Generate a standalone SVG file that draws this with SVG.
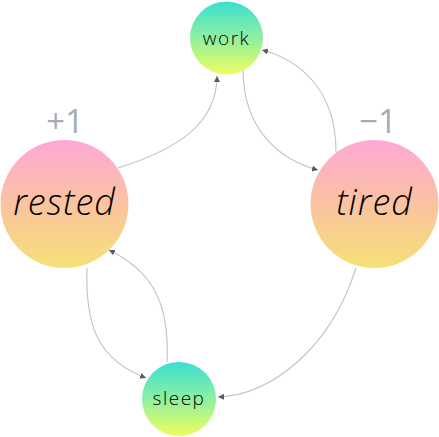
<svg xmlns="http://www.w3.org/2000/svg" width="439" height="437" viewBox="0 0 439 437">
<defs>
<linearGradient id="gTeal" x1="0" y1="0" x2="0" y2="1">
<stop offset="0" stop-color="#3adfd2"/>
<stop offset="0.5" stop-color="#8ef0a0"/>
<stop offset="1" stop-color="#effd5e"/>
</linearGradient>
<linearGradient id="gPink" x1="0" y1="0" x2="0" y2="1">
<stop offset="0" stop-color="#ffa8d6"/>
<stop offset="0.5" stop-color="#fac3a0"/>
<stop offset="1" stop-color="#f6e176"/>
</linearGradient>
<marker id="arr" viewBox="0 0 10 10" refX="10" refY="5" markerWidth="6" markerHeight="6" markerUnits="userSpaceOnUse" orient="auto">
<path d="M0,0 L10,5 L0,10 z" fill="#555b5e"/>
</marker>
</defs>
<style>
.edge{fill:none;stroke:#bcc6ca;stroke-width:1.1;marker-end:url(#arr)}
.small{font-family:"Open Sans",Lato,sans-serif;font-weight:300;font-size:19px;fill:#000;text-anchor:middle;letter-spacing:1.5px}
.big{font-family:"Open Sans",Lato,sans-serif;font-weight:300;font-size:36px;font-style:italic;fill:#000;text-anchor:middle;letter-spacing:1px}
.score{font-family:"Open Sans",Lato,sans-serif;font-weight:400;font-size:33px;fill:#a3adb2;text-anchor:middle}
</style>
<g id="connectors">
<path class="edge" d="M118,168 C175,150 217,125 217,76"/>
<path class="edge" d="M243,69 C243,130 280,160 318,170"/>
<path class="edge" d="M336,152 C336,90 300,60 262,50"/>
<path class="edge" d="M356,268 C330,350 270,395 218,397"/>
<path class="edge" d="M87,268 C85,330 100,360 146,378"/>
<path class="edge" d="M167,362 C170,300 150,270 109,250"/>
</g>
<g id="work">
<circle cx="226.5" cy="38" r="36.5" fill="url(#gTeal)"/>
<text class="small" x="226.5" y="45">work</text>
</g>
<g id="rested">
<circle cx="64.5" cy="204" r="64" fill="url(#gPink)"/>
<text class="big" x="64.5" y="215">rested</text>
<text class="score" x="65" y="133">+1</text>
</g>
<g id="tired">
<circle cx="374.5" cy="204" r="64" fill="url(#gPink)"/>
<text class="big" x="374.5" y="215">tired</text>
<text class="score" x="378" y="133">−1</text>
</g>
<g id="sleep">
<circle cx="179" cy="399" r="37" fill="url(#gTeal)"/>
<text class="small" x="179" y="405">sleep</text>
</g>
</svg>
